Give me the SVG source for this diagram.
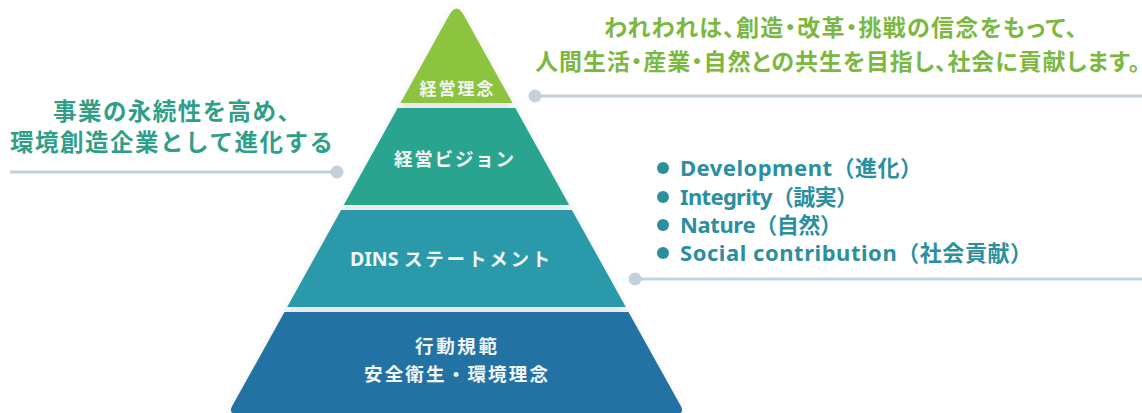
<svg xmlns="http://www.w3.org/2000/svg" width="1142" height="413" viewBox="0 0 1142 413">
<defs>
<style>
.jp{font-family:"Noto Sans CJK JP","Noto Sans",sans-serif;font-weight:700}
.mix{font-family:"Noto Sans","Noto Sans CJK JP",sans-serif;font-weight:700}
.lbl{fill:#f2f6f5;font-size:18.5px}
.green{fill:#7cb83f;font-size:23px;font-feature-settings:"palt"}
.teal{fill:#2f9f88;font-size:23.5px}
.blue{fill:#2c8f9f;font-size:22px}
.conn{stroke:#c4d1dd;stroke-width:3;fill:none}
.dot{fill:#c4d1dd}
.bul{fill:#2c8f9f}
</style>
<filter id="sh" x="-10%" y="-10%" width="120%" height="120%">
<feGaussianBlur stdDeviation="3"/>
</filter>
</defs>
<rect width="1142" height="413" fill="#ffffff"/>
<path d="M 449.3,15 Q 456.5,2 463.7,15 L 685.2,414 L 227.8,414 Z" fill="#000" opacity="0.08" filter="url(#sh)"/>
<g id="tier1">
<path d="M 449.3,15 Q 456.5,2 463.7,15 L 512.5,103 L 400.5,103 Z" fill="#8cc43f"/>
<text class="jp lbl" x="456.5" y="95" text-anchor="middle" style="font-size:17px" textLength="74">経営理念</text>
</g>
<g id="tier2">
<path d="M 397.7,108 L 515.3,108 L 569.2,205 L 343.8,205 Z" fill="#29a58f"/>
<text class="jp lbl" x="454" y="166" text-anchor="middle" textLength="120">経営ビジョン</text>
</g>
<g id="tier3">
<path d="M 341.1,210 L 571.9,210 L 625.8,307 L 287.2,307 Z" fill="#2a9aab"/>
<text class="mix lbl" x="350" y="266"><tspan font-size="19.5">DINS</tspan><tspan> </tspan><tspan x="404" letter-spacing="2.8">ステートメント</tspan></text>
</g>
<g id="tier4">
<path d="M 284.5,312 L 628.5,312 L 680.8,406.1 Q 685.2,414 675.2,414 L 237.8,414 Q 227.8,414 232.2,406.1 Z" fill="#2372a4"/>
<text class="jp lbl" x="456" y="352.5" text-anchor="middle" textLength="82">行動規範</text>
<text class="jp lbl" x="456" y="380.5" text-anchor="middle" textLength="184">安全衛生・環境理念</text>
</g>
<g id="note-philosophy">
<text class="jp green" x="604" y="36" textLength="473">われわれは、創造・改革・挑戦の信念をもって、</text>
<text class="jp green" x="535" y="70" textLength="605">人間生活・産業・自然との共生を目指し、社会に貢献します。</text>
</g>
<g id="note-vision">
<text class="jp teal" x="53" y="120" textLength="248">事業の永続性を高め、</text>
<text class="jp teal" x="10" y="151" textLength="323">環境創造企業として進化する</text>
</g>
<g id="note-statement">
<circle class="bul" cx="663" cy="168" r="6"/>
<circle class="bul" cx="663" cy="197" r="6"/>
<circle class="bul" cx="663" cy="225" r="6"/>
<circle class="bul" cx="663" cy="253" r="6"/>
<text class="mix blue" x="680" y="176" textLength="242">Development（進化）</text>
<text class="mix blue" x="680" y="205" textLength="178">Integrity（誠実）</text>
<text class="mix blue" x="680" y="233" textLength="162">Nature（自然）</text>
<text class="mix blue" x="680" y="261" textLength="352">Social contribution（社会貢献）</text>
</g>
<g id="connectors">
<line class="conn" x1="535" y1="96" x2="1142" y2="96"/>
<circle class="dot" cx="535" cy="96" r="6.5"/>
<line class="conn" x1="10" y1="172" x2="337" y2="172"/>
<circle class="dot" cx="337" cy="172" r="6.5"/>
<line class="conn" x1="635" y1="279" x2="1142" y2="279"/>
<circle class="dot" cx="635" cy="279" r="6.5"/>
</g>
</svg>
